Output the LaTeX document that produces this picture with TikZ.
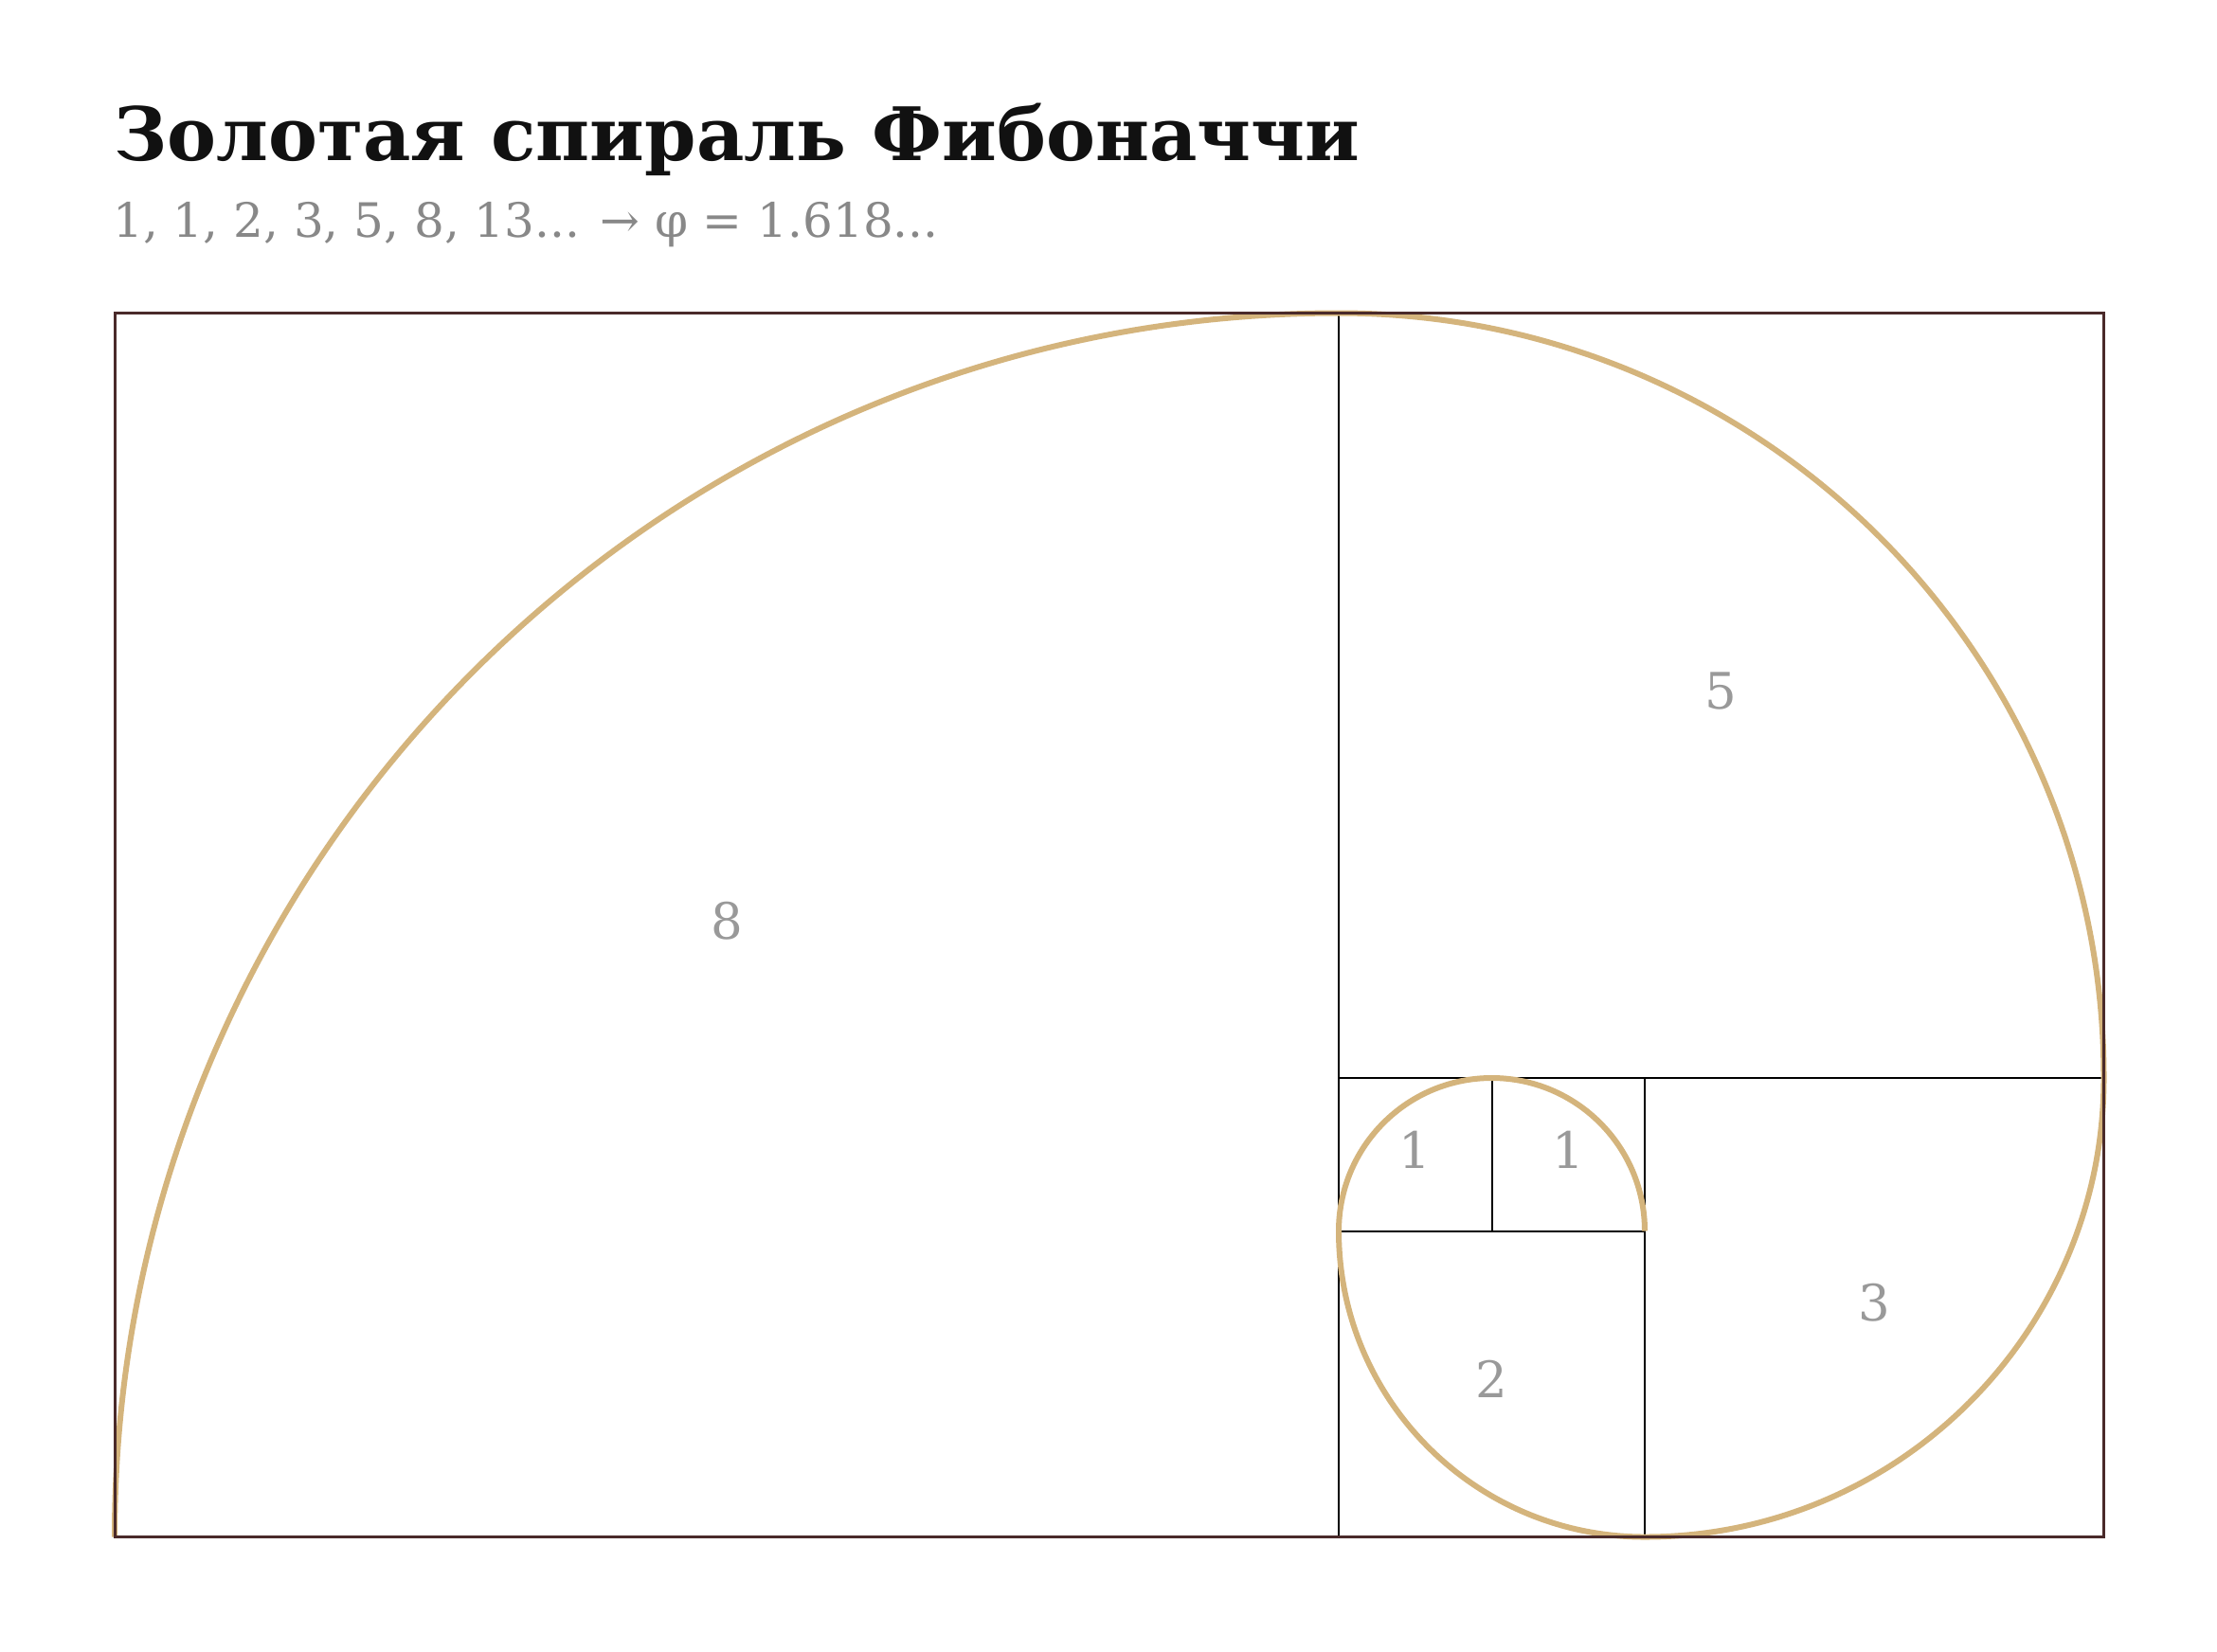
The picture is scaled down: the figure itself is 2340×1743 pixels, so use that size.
\documentclass[tikz,border=0pt]{standalone}
\usepackage{fontspec}
\setmainfont{DejaVu Serif}
\definecolor{gold}{HTML}{D4B47C}
\definecolor{frame}{HTML}{4A2A2A}
\definecolor{titlec}{HTML}{111111}
\definecolor{subc}{HTML}{888888}
\definecolor{labc}{HTML}{999999}
\begin{document}
\begin{tikzpicture}[x=0.75pt,y=-0.75pt,
  grid/.style={draw=black,line width=1.5pt},
  sq/.style={font=\fontsize{39.75pt}{44pt}\selectfont,text=labc,anchor=base,inner sep=0pt},
  spiral/.style={draw=gold,line width=4.5pt}]
\useasboundingbox[fill=white] (0,0) rectangle (2340,1743);
% title
\node[anchor=base west,inner sep=0pt,text=titlec,font=\fontsize{58.4pt}{64pt}\selectfont\bfseries] (title) at (120,169) {Золотая спираль Фибоначчи};
\node[anchor=base west,inner sep=0pt,text=subc,font=\fontsize{37.5pt}{42pt}\selectfont] (sub) at (119,250) {1, 1, 2, 3, 5, 8, 13... → φ = 1.618...};
% grid lines
\draw[grid] (1413,330.5) -- (1413,1622.5);
\draw[grid] (1413,1138) -- (2220.5,1138);
\draw[grid] (1574.5,1138) -- (1574.5,1299.5);
\draw[grid] (1736,1138) -- (1736,1622.5);
\draw[grid] (1413,1299.5) -- (1736,1299.5);
% spiral
\draw[spiral] (121,1622.5)
  arc[start angle=180,end angle=270,radius=1292]
  arc[start angle=270,end angle=360,radius=807.5]
  arc[start angle=0,end angle=90,radius=484.5]
  arc[start angle=90,end angle=180,radius=323]
  arc[start angle=180,end angle=270,radius=161.5]
  arc[start angle=270,end angle=360,radius=161.5];
% frame
\draw[draw=frame,line width=2.25pt] (121,330.5) rectangle (2220.5,1622.5);
% labels
\node[sq] (l8) at (767,991) {8};
\node[sq] (l5) at (1816.75,748.75) {5};
\node[sq] (l3) at (1978.25,1394.75) {3};
\node[sq] (l2) at (1574.5,1475.5) {2};
\node[sq] (l1a) at (1493.75,1233.25) {1};
\node[sq] (l1b) at (1655.25,1233.25) {1};
\end{tikzpicture}
\end{document}
